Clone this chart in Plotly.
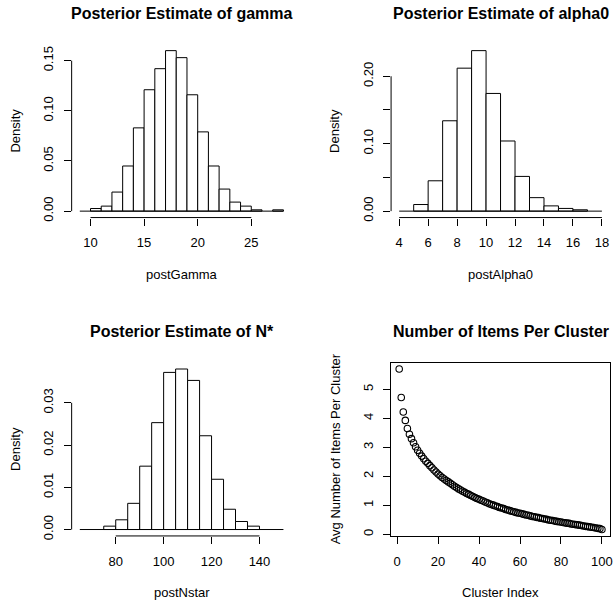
import plotly.graph_objects as go

# ---------------- data ----------------
gamma_edges = [9, 10, 11, 12, 13, 14, 15, 16, 17, 18, 19, 20, 21, 22, 23, 24, 25, 26, 27, 28]
gamma_density = [0.0, 0.0026, 0.005, 0.019, 0.045, 0.083, 0.121, 0.142, 0.160, 0.153,
                 0.116, 0.079, 0.045, 0.022, 0.009, 0.005, 0.0013, 0.0, 0.0013]

alpha_edges = [4, 5, 6, 7, 8, 9, 10, 11, 12, 13, 14, 15, 16, 17, 18]
alpha_density = [0.0, 0.0098, 0.045, 0.134, 0.212, 0.238, 0.1745, 0.104, 0.0515,
                 0.020, 0.0078, 0.004, 0.002, 0.0]

nstar_edges = [65, 70, 75, 80, 85, 90, 95, 100, 105, 110, 115, 120, 125, 130, 135, 140, 145, 150]
nstar_density = [0.0, 0.0, 0.0008, 0.0023, 0.0062, 0.0150, 0.0253, 0.0372, 0.0380,
                 0.0353, 0.0222, 0.0119, 0.0048, 0.0019, 0.0008, 0.0, 0.0]

cluster_index = list(range(1, 101))
avg_items = [5.70, 4.72, 4.22, 3.93, 3.65, 3.45, 3.30, 3.16, 3.02, 2.90,
             2.80, 2.70, 2.61, 2.52, 2.45, 2.37, 2.30, 2.22, 2.15, 2.08,
             2.02, 1.96, 1.91, 1.86, 1.81, 1.76, 1.71, 1.66, 1.62, 1.57,
             1.53, 1.49, 1.45, 1.41, 1.38, 1.34, 1.31, 1.27, 1.24, 1.21,
             1.18, 1.15, 1.12, 1.09, 1.06, 1.03, 1.01, 0.98, 0.96, 0.93,
             0.91, 0.89, 0.86, 0.84, 0.82, 0.80, 0.78, 0.76, 0.74, 0.73,
             0.71, 0.69, 0.67, 0.66, 0.64, 0.62, 0.61, 0.59, 0.58, 0.56,
             0.55, 0.53, 0.52, 0.50, 0.49, 0.48, 0.46, 0.45, 0.44, 0.43,
             0.41, 0.40, 0.39, 0.38, 0.36, 0.35, 0.34, 0.33, 0.32, 0.31,
             0.29, 0.28, 0.27, 0.26, 0.25, 0.24, 0.22, 0.21, 0.20, 0.17]

gamma_xticks = [10, 15, 20, 25]
gamma_yticks = [0.00, 0.05, 0.10, 0.15]
gamma_ylabels = ["0.00", "0.05", "0.10", "0.15"]

alpha_xticks = [4, 6, 8, 10, 12, 14, 16, 18]
alpha_yticks = [0.00, 0.05, 0.10, 0.15, 0.20]
alpha_ylabels = ["0.00", "", "0.10", "", "0.20"]

nstar_xticks = [80, 100, 120, 140]
nstar_yticks = [0.00, 0.01, 0.02, 0.03]
nstar_ylabels = ["0.00", "0.01", "0.02", "0.03"]

clus_xticks = [0, 20, 40, 60, 80, 100]
clus_yticks = [0, 1, 2, 3, 4, 5]

titles = ["Posterior Estimate of gamma", "Posterior Estimate of alpha0",
          "Posterior Estimate of N*", "Number of Items Per Cluster"]
xlabels = ["postGamma", "postAlpha0", "postNstar", "Cluster Index"]
ylabels = ["Density", "Density", "Density", "Avg Number of Items Per Cluster"]

# ---------------- layout geometry ----------------
W, H = 616, 606
FONT = "Liberation Sans, Arial, Helvetica, sans-serif"
col_x = [(72 / W, 293 / W), (393 / W, 613 / W)]
row_y = [((H - 219) / H, (H - 44.5) / H), ((H - 539.5) / H, (H - 365) / H)]
domains = [(col_x[0], row_y[0]), (col_x[1], row_y[0]), (col_x[0], row_y[1]), (col_x[1], row_y[1])]


def ext(lo, hi, f=0.04):
    d = (hi - lo) * f
    return [lo - d, hi + d]


fig = go.Figure()
layout = dict(width=W, height=H, margin=dict(l=0, r=0, t=0, b=0), autosize=False,
              paper_bgcolor="white", plot_bgcolor="white", showlegend=False,
              font=dict(family=FONT, size=13, color="black"))
shapes = []
annotations = []

hists = [(gamma_edges, gamma_density, gamma_xticks, gamma_yticks, gamma_ylabels),
         (alpha_edges, alpha_density, alpha_xticks, alpha_yticks, alpha_ylabels),
         (nstar_edges, nstar_density, nstar_xticks, nstar_yticks, nstar_ylabels)]

XSTAND = 6
YSTAND = 5

for i, (edges, dens, xt, yt, yl) in enumerate(hists):
    n = i + 1
    xa = "x" if n == 1 else f"x{n}"
    ya = "y" if n == 1 else f"y{n}"
    centers = [(edges[k] + edges[k + 1]) / 2 for k in range(len(dens)) if dens[k] > 0]
    widths = [edges[k + 1] - edges[k] for k in range(len(dens)) if dens[k] > 0]
    heights = [d for d in dens if d > 0]
    # baseline (zero-height bins)
    fig.add_trace(go.Scatter(x=[edges[0], edges[-1]], y=[0, 0], mode="lines",
                             line=dict(color="black", width=1), xaxis=xa, yaxis=ya,
                             hoverinfo="skip"))
    fig.add_trace(go.Bar(x=centers, y=heights, width=widths,
                         marker=dict(color="white", line=dict(color="black", width=1)),
                         xaxis=xa, yaxis=ya))
    (dx, dy) = domains[i]
    layout[f"xaxis{'' if n == 1 else n}"] = dict(
        domain=list(dx), anchor=ya, range=ext(edges[0], edges[-1]),
        tickvals=xt, ticktext=[str(v) for v in xt], ticks="outside", ticklen=7,
        tickcolor="black", tickwidth=1, showline=False, showgrid=False, zeroline=False,
        ticklabelstandoff=XSTAND,
        tickfont=dict(size=13, family=FONT), fixedrange=True)
    layout[f"yaxis{'' if n == 1 else n}"] = dict(
        domain=list(dy), anchor=xa, range=ext(0, max(dens)),
        tickvals=yt, ticktext=yl, ticks="outside", ticklen=7, tickangle=-90,
        tickcolor="black", tickwidth=1, showline=False, showgrid=False, zeroline=False,
        ticklabelstandoff=YSTAND,
        tickfont=dict(size=13, family=FONT), fixedrange=True)
    # R style axis lines spanning first..last tick
    shapes.append(dict(type="line", xref=xa, yref=f"{ya} domain", x0=xt[0], x1=xt[-1],
                       y0=0, y1=0, line=dict(color="black", width=1)))
    shapes.append(dict(type="line", xref=f"{xa} domain", yref=ya, x0=0, x1=0,
                       y0=yt[0], y1=yt[-1], line=dict(color="black", width=1)))

# scatter panel
fig.add_trace(go.Scatter(x=cluster_index, y=avg_items, mode="markers",
                         marker=dict(symbol="circle-open", size=6.5, color="black",
                                     line=dict(width=1.1, color="black")),
                         xaxis="x4", yaxis="y4"))
(dx, dy) = domains[3]
layout["xaxis4"] = dict(domain=list(dx), anchor="y4",
                        range=ext(min(cluster_index), max(cluster_index)),
                        tickvals=clus_xticks, ticks="outside", ticklen=7, tickcolor="black",
                        showline=True, mirror=True, linecolor="black", linewidth=1,
                        ticklabelstandoff=XSTAND,
                        showgrid=False, zeroline=False, tickfont=dict(size=13, family=FONT),
                        fixedrange=True)
layout["yaxis4"] = dict(domain=list(dy), anchor="x4",
                        range=ext(min(avg_items), max(avg_items)),
                        tickvals=clus_yticks, ticks="outside", ticklen=7, tickangle=-90,
                        tickcolor="black", showline=True, mirror=True, linecolor="black",
                        linewidth=1, showgrid=False, zeroline=False,
                        ticklabelstandoff=YSTAND,
                        tickfont=dict(size=13, family=FONT), fixedrange=True)

for i in range(4):
    (dx, dy) = domains[i]
    cx = (dx[0] + dx[1]) / 2
    cy = (dy[0] + dy[1]) / 2
    annotations.append(dict(text=f"<b>{titles[i]}</b>", x=cx, y=dy[1], xref="paper", yref="paper",
                            xanchor="center", yanchor="middle", yshift=31, showarrow=False,
                            font=dict(size=16, family=FONT, color="black")))
    annotations.append(dict(text=xlabels[i], x=cx, y=dy[0], xref="paper", yref="paper",
                            xanchor="center", yanchor="middle", yshift=-57, showarrow=False,
                            font=dict(size=13, family=FONT, color="black")))
    annotations.append(dict(text=ylabels[i], x=dx[0], y=cy, xref="paper", yref="paper",
                            xanchor="center", yanchor="middle", xshift=-56, textangle=-90,
                            showarrow=False, font=dict(size=13, family=FONT, color="black")))

layout["shapes"] = shapes
layout["annotations"] = annotations
fig.update_layout(**layout)
fig.write_html("out.html")
